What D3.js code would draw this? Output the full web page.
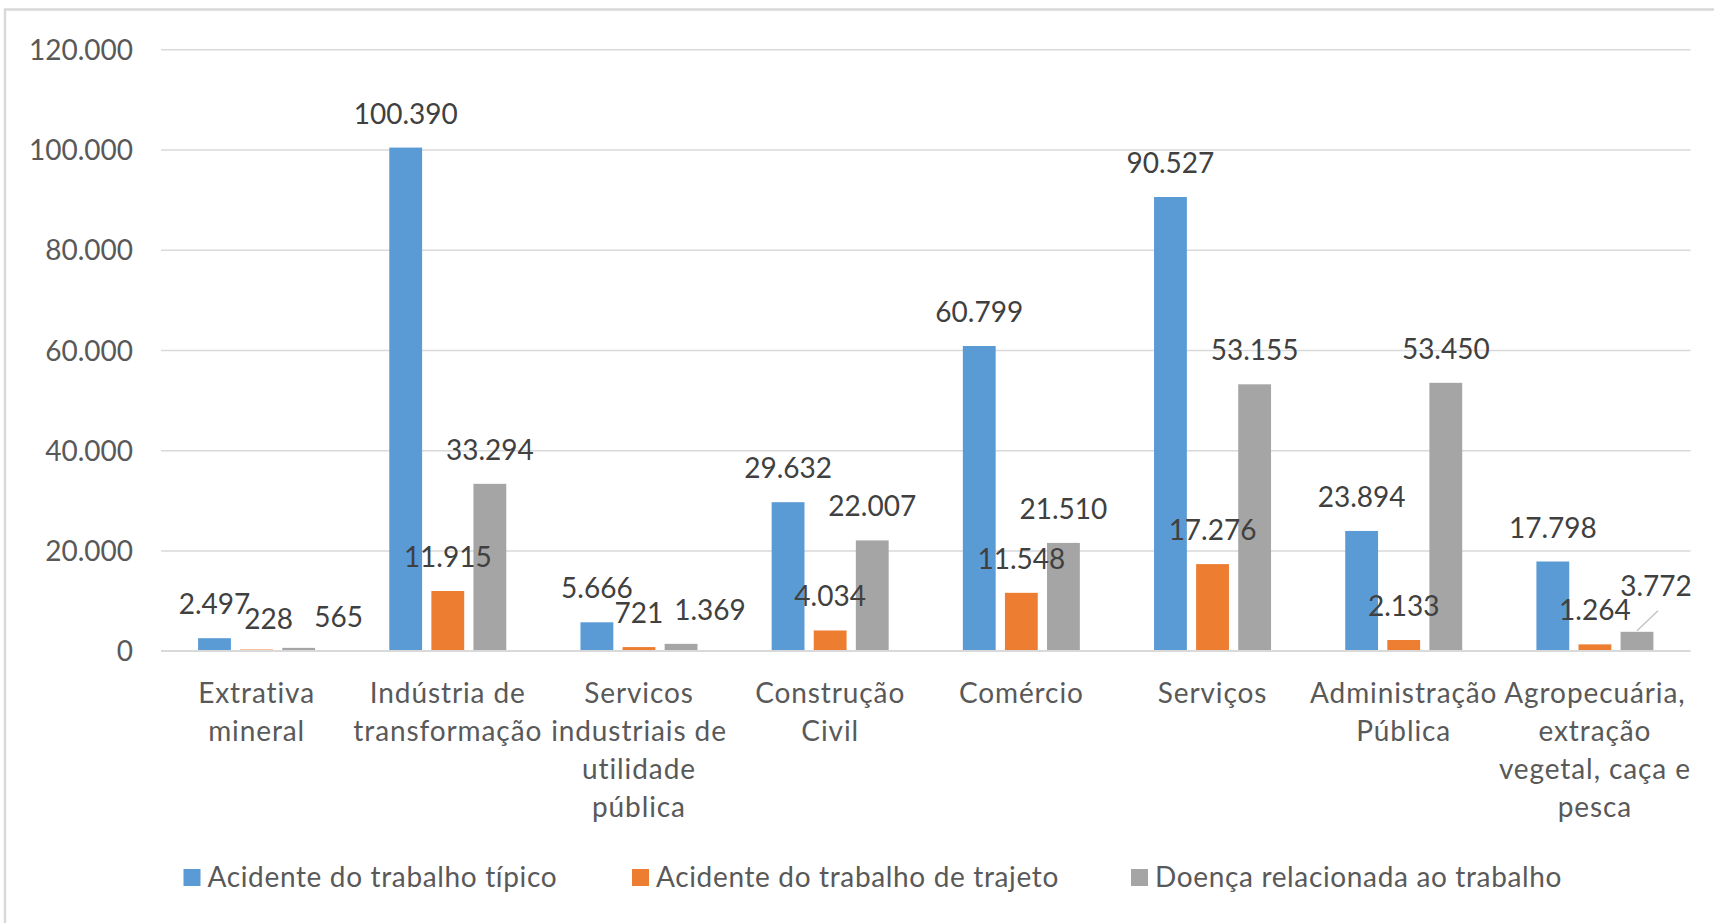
<!DOCTYPE html>
<html>
<head>
<meta charset="utf-8">
<script src="https://cdn.jsdelivr.net/npm/d3@7"></script>
<style>
  body { margin: 0; background: #fff; }
  svg { display: block; font-family: Lato, "Open Sans", sans-serif; }
</style>
</head>
<body>
<div id="chart"></div>
<script>
// categories (wrapped as in the original)
let categories = [
    ["Extrativa", "mineral"],
    ["Indústria de", "transformação"],
    ["Servicos", "industriais de", "utilidade", "pública"],
    ["Construção", "Civil"],
    ["Comércio"],
    ["Serviços"],
    ["Administração", "Pública"],
    ["Agropecuária,", "extração", "vegetal, caça e", "pesca"]
];
let seriesNames = ["Acidente do trabalho típico", "Acidente do trabalho de trajeto", "Doença relacionada ao trabalho"];
let tipico  = [2497, 100390, 5666, 29632, 60799, 90527, 23894, 17798];
let trajeto = [228, 11915, 721, 4034, 11548, 17276, 2133, 1264];
let doenca  = [565, 33294, 1369, 22007, 21510, 53155, 53450, 3772];
let yTicks  = [0, 20000, 40000, 60000, 80000, 100000, 120000];

let colours = ["#5b9bd5", "#ed7d31", "#a5a5a5"];
let gridColour = "#d9d9d9";
let textColour = "#595959";
let labelColour = "#404040";
let fontSize = 28;

const width = 1714, height = 923;
const plotLeft = 161, plotRight = 1690.5, plotTop = 49.3, plotBottom = 650.7;

const br = d3.formatLocale({decimal: ",", thousands: ".", grouping: [3], currency: ["R$", ""]});
const fmt = br.format(",d");

var svg = d3.select("#chart")
    .append("svg")
    .attr("width", width)
    .attr("height", height);

// chart area border
svg.append("rect")
    .attr("x", 5).attr("y", 9.5)
    .attr("width", width + 20).attr("height", height + 20)
    .attr("fill", "#fff")
    .attr("stroke", gridColour)
    .attr("stroke-width", 2.5);

var x0 = d3.scaleBand()
    .domain(d3.range(categories.length))
    .range([plotLeft, plotRight]);

const groupW = 117;
var x1 = d3.scaleBand()
    .domain(d3.range(seriesNames.length))
    .range([-groupW / 2, groupW / 2])
    .paddingInner(0.22);

var y = d3.scaleLinear()
    .domain([0, 120000])
    .range([plotBottom, plotTop]);

// gridlines + y labels
var yAxis = svg.append("g")
    .attr("transform", "translate(" + plotLeft + ",0)")
    .call(d3.axisLeft(y)
        .tickValues(yTicks)
        .tickSize(-(plotRight - plotLeft))
        .tickPadding(28)
        .tickFormat(fmt));
yAxis.select(".domain").remove();
yAxis.selectAll("line")
    .attr("stroke", gridColour)
    .attr("stroke-width", 1.4);
yAxis.selectAll("text")
    .attr("fill", textColour)
    .attr("font-size", fontSize)
    .attr("font-family", "Lato, sans-serif")
    .attr("dy", "0.36em");

// flat list of bars
let series = [tipico, trajeto, doenca];
let cells = [];
categories.forEach((c, i) => series.forEach((s, k) => cells.push({cat: i, k: k, v: s[i]})));

let cx = d => x0(d.cat) + x0.bandwidth() / 2 + x1(d.k) + x1.bandwidth() / 2;

svg.append("g")
    .selectAll("rect")
    .data(cells)
    .enter().append("rect")
    .attr("x", d => cx(d) - x1.bandwidth() / 2)
    .attr("width", x1.bandwidth())
    .attr("y", d => y(d.v))
    .attr("height", d => y(0) - y(d.v))
    .attr("fill", d => colours[d.k]);

// category axis line
svg.append("line")
    .attr("x1", plotLeft).attr("x2", plotRight)
    .attr("y1", y(0)).attr("y2", y(0))
    .attr("stroke", gridColour)
    .attr("stroke-width", 1.4);

// value labels; a few are nudged sideways the way Excel does to dodge neighbours
function nudge(d) {
    if (d.cat === 0 && d.k === 1) return [12, 3];
    if (d.cat === 0 && d.k === 2) return [40, 3];
    if (d.cat === 2 && d.k === 2) return [29, 0];
    if (d.cat === categories.length - 1 && d.k === 2) return [19, -12];
    return [0, 0];
}
let isMoved = d => d.cat === categories.length - 1 && d.k === 2;

svg.append("g")
    .selectAll("line")
    .data(cells.filter(isMoved))
    .enter().append("line")
    .attr("x1", d => cx(d))
    .attr("y1", d => y(d.v) - 1)
    .attr("x2", d => cx(d) + 21)
    .attr("y2", d => y(d.v) - 21)
    .attr("stroke", "#bfbfbf")
    .attr("stroke-width", 1.2);

svg.append("g")
    .selectAll("text")
    .data(cells)
    .enter().append("text")
    .attr("x", d => cx(d) + nudge(d)[0])
    .attr("y", d => y(d.v) - 24 + nudge(d)[1])
    .attr("text-anchor", "middle")
    .attr("fill", labelColour)
    .attr("font-size", fontSize)
    .text(d => fmt(d.v));

// category labels
svg.append("g")
    .selectAll("text")
    .data(categories)
    .enter().append("text")
    .attr("text-anchor", "middle")
    .attr("fill", textColour)
    .attr("font-size", fontSize)
    .attr("letter-spacing", 0.9)
    .attr("transform", (d, i) => "translate(" + (x0(i) + x0.bandwidth() / 2) + ",703)")
    .selectAll("tspan")
    .data(d => d)
    .enter().append("tspan")
    .attr("x", 0)
    .attr("y", (d, j) => j * 38)
    .text(d => d);

// legend
let legendX = [183.5, 632, 1131];
let legend = svg.append("g")
    .selectAll("g")
    .data(seriesNames)
    .enter().append("g")
    .attr("transform", (d, i) => "translate(" + legendX[i] + ",869)");
legend.append("rect")
    .attr("width", 17).attr("height", 17)
    .attr("fill", (d, i) => colours[i]);
legend.append("text")
    .attr("x", 24)
    .attr("y", 17.5)
    .attr("fill", textColour)
    .attr("font-size", fontSize)
    .attr("letter-spacing", 0.65)
    .text(d => d);
</script>
</body>
</html>
